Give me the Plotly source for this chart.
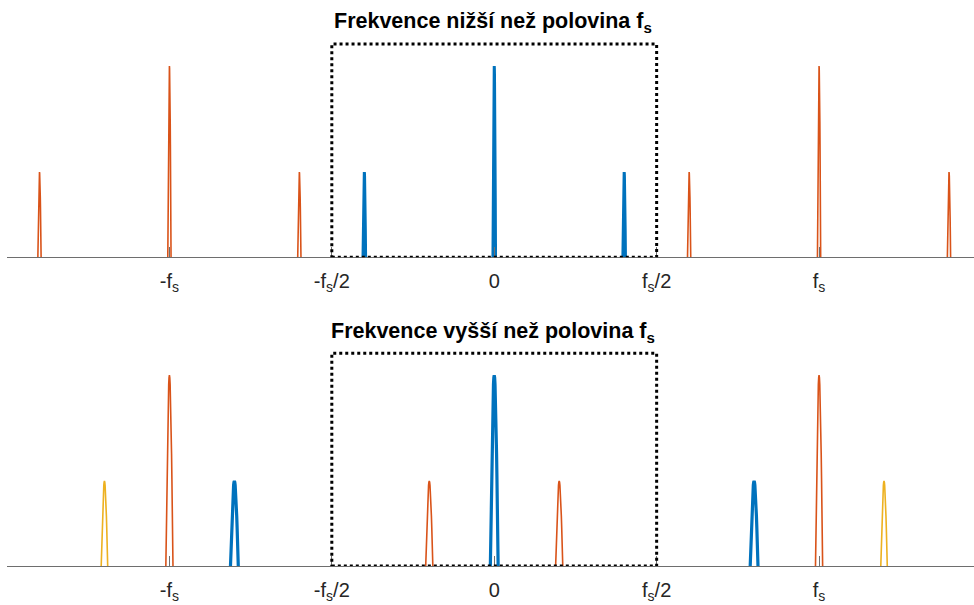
import numpy as np
import plotly.graph_objects as go

# ---- data ----
tick_vals = [-1, -0.5, 0, 0.5, 1]
tick_text = ["-f<sub>s</sub>", "-f<sub>s</sub>/2", "0", "f<sub>s</sub>/2", "f<sub>s</sub>"]

titles = ["Frekvence nižší než polovina f<sub>s</sub>",
          "Frekvence vyšší než polovina f<sub>s</sub>"]

# top panel (frequency below fs/2)
top_blue_centers = [-0.4, 0.0, 0.4]
top_blue_heights = [0.445, 1.0, 0.445]
top_orange_centers = [-1.4, -1.0, -0.6, 0.6, 1.0, 1.4]
top_orange_heights = [0.445, 1.0, 0.445, 0.445, 1.0, 0.445]

# bottom panel (frequency above fs/2)
bot_blue_centers = [-0.8, 0.0, 0.8]
bot_blue_heights = [0.445, 1.0, 0.445]
bot_orange_centers = [-1.0, -0.2, 0.2, 1.0]
bot_orange_heights = [1.0, 0.445, 0.445, 1.0]
bot_yellow_centers = [-1.2, 1.2]
bot_yellow_heights = [0.445, 0.445]

box_half = 0.5
box_top = 1.115

BLUE = "#0072BD"
ORANGE = "#D95319"
YELLOW = "#EDB120"


def peaks(centers, heights, hw):
    u = np.linspace(-1, 1, 21)
    prof = np.cos(np.pi / 2 * u)
    xs, ys = [], []
    for c, h in zip(centers, heights):
        xs += list(c + hw * u) + [None]
        ys += list(h * prof) + [None]
    return xs, ys


fig = go.Figure()

series = [
    ("x", "y", top_orange_centers, top_orange_heights, ORANGE, 1.6, 0.005),
    ("x", "y", top_blue_centers, top_blue_heights, BLUE, 3.0, 0.004),
    ("x2", "y2", bot_orange_centers, bot_orange_heights, ORANGE, 1.6, 0.011),
    ("x2", "y2", bot_yellow_centers, bot_yellow_heights, YELLOW, 1.6, 0.01),
    ("x2", "y2", bot_blue_centers, bot_blue_heights, BLUE, 3.2, 0.012),
]
for xa, ya, cs, hs, col, lw, hw in series:
    xs, ys = peaks(cs, hs, hw)
    fig.add_trace(go.Scatter(x=xs, y=ys, mode="lines", xaxis=xa, yaxis=ya,
                             line=dict(color=col, width=lw), hoverinfo="skip",
                             showlegend=False))

xrange = [-1.5, 1.477]
ax_common = dict(range=xrange, tickvals=tick_vals, ticktext=tick_text,
                 showgrid=False, zeroline=False, showline=True,
                 linecolor="#6e6e6e", linewidth=1.3, ticks="inside", ticklen=10,
                 tickcolor="#6e6e6e", tickwidth=1,
                 tickfont=dict(family="Liberation Sans, Arial", size=20, color="#262626"),
                 automargin=False, ticklabelstandoff=6)
ya_common = dict(range=[0, 1.2], visible=False, showgrid=False, zeroline=False,
                 automargin=False)

fig.update_layout(
    width=974, height=605,
    margin=dict(l=7, r=0, t=0, b=0),
    paper_bgcolor="white", plot_bgcolor="white",
    xaxis=dict(domain=[0, 1], anchor="y", **ax_common),
    yaxis=dict(domain=[0.575, 0.954], anchor="x", **ya_common),
    xaxis2=dict(domain=[0, 1], anchor="y2", **ax_common),
    yaxis2=dict(domain=[0.0645, 0.443], anchor="x2", **ya_common),
)

for xr, yr in [("x", "y"), ("x2", "y2")]:
    fig.add_shape(type="rect", xref=xr, yref=yr, x0=-box_half, x1=box_half,
                  y0=0, y1=box_top, line=dict(color="black", width=3, dash="dot"))

title_y = [1 - 22 / 605, 1 - 332 / 605]
for t, yy in zip(titles, title_y):
    fig.add_annotation(text="<b>" + t + "</b>", xref="paper", yref="paper",
                       x=0.503, y=yy, xanchor="center", yanchor="middle",
                       showarrow=False,
                       font=dict(family="Liberation Sans, Arial", size=21.5, color="black"))

fig.write_html("out.html")
